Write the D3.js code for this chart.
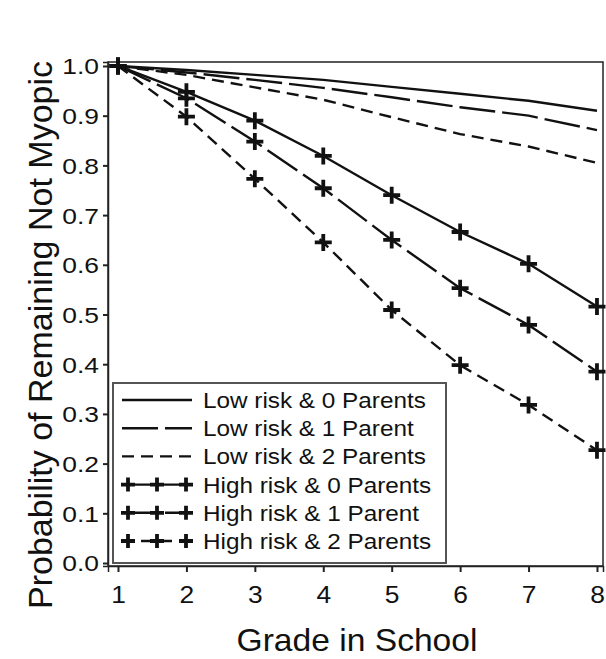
<!DOCTYPE html>
<html>
<head>
<meta charset="utf-8">
<script src="https://cdn.jsdelivr.net/npm/d3@7"></script>
<style>
  body { margin: 0; background: #fff; }
  svg text { font-family: "Liberation Sans", Arial, sans-serif; fill: #111; }
</style>
</head>
<body>
<div id="chart"></div>
<script>
// grades on the x axis
var grades = [1, 2, 3, 4, 5, 6, 7, 8];
var yTicks = [0, 0.1, 0.2, 0.3, 0.4, 0.5, 0.6, 0.7, 0.8, 0.9, 1.0];

// probability of remaining not myopic
var lowRisk0 = [1.0, 0.992, 0.982, 0.972, 0.958, 0.944, 0.93, 0.91];
var lowRisk1 = [1.0, 0.987, 0.972, 0.956, 0.937, 0.917, 0.90, 0.871];
var lowRisk2 = [1.0, 0.982, 0.957, 0.932, 0.897, 0.863, 0.838, 0.805];
var highRisk0 = [1.0, 0.948, 0.89, 0.819, 0.74, 0.666, 0.602, 0.516];
var highRisk1 = [1.0, 0.935, 0.848, 0.754, 0.65, 0.553, 0.479, 0.385];
var highRisk2 = [1.0, 0.898, 0.773, 0.645, 0.509, 0.398, 0.318, 0.227];

var seriesNames = ["Low risk & 0 Parents", "Low risk & 1 Parent", "Low risk & 2 Parents",
                   "High risk & 0 Parents", "High risk & 1 Parent", "High risk & 2 Parents"];

var width = 606, height = 659;
var plotLeft = 108, plotRight = 603, plotTop = 62, plotBottom = 566;

var series = [
  { name: seriesNames[0], values: lowRisk0, dash: null, plus: false },
  { name: seriesNames[1], values: lowRisk1, dash: "36,7", plus: false },
  { name: seriesNames[2], values: lowRisk2, dash: "12,7", plus: false },
  { name: seriesNames[3], values: highRisk0, dash: null, plus: true },
  { name: seriesNames[4], values: highRisk1, dash: "36,7", plus: true },
  { name: seriesNames[5], values: highRisk2, dash: "12,7", plus: true }
];

var x = d3.scaleLinear().domain([0.854, 8.088]).range([plotLeft, plotRight]);
var y = d3.scaleLinear().domain([-0.006, 1.008]).range([plotBottom, plotTop]);

var svg = d3.select("#chart").append("svg")
  .attr("width", width).attr("height", height);

// stretch text a bit wider, the figure's lettering is wide
function stretch(sel, k) {
  sel.each(function () {
    var w = this.getComputedTextLength();
    d3.select(this).attr("textLength", w * k).attr("lengthAdjust", "spacingAndGlyphs");
  });
}

// frame
svg.append("rect")
  .attr("x", plotLeft).attr("y", plotTop)
  .attr("width", plotRight - plotLeft).attr("height", plotBottom - plotTop)
  .attr("fill", "none").attr("stroke", "#222").attr("stroke-width", 1.5);

var xAxis = d3.axisBottom(x).tickValues(grades).tickSize(6).tickPadding(14).tickFormat(d3.format("d"));
var yAxis = d3.axisLeft(y).tickValues(yTicks).tickSize(5).tickPadding(4).tickFormat(d3.format(".1f"));

var gx = svg.append("g").attr("transform", "translate(0," + plotBottom + ")").call(xAxis);
var gy = svg.append("g").attr("transform", "translate(" + plotLeft + ",0)").call(yAxis);

[gx, gy].forEach(function (g) {
  g.select(".domain").attr("stroke", "#222").attr("stroke-width", 1.5);
  g.selectAll(".tick line").attr("stroke", "#222").attr("stroke-width", 2);
  g.selectAll(".tick text").attr("fill", "#111");
});
gx.selectAll(".tick text").style("font-size", "24px");
gy.selectAll(".tick text").style("font-size", "22px").attr("dy", "0.36em");
stretch(gx.selectAll(".tick text"), 1.1);
stretch(gy.selectAll(".tick text"), 1.2);

// lines
var line = d3.line()
  .x(function (d, i) { return x(grades[i]); })
  .y(function (d) { return y(d); });

var plusPath = function (s) { return "M" + (-s) + ",0H" + s + "M0," + (-s) + "V" + s; };

series.forEach(function (s) {
  svg.append("path")
    .attr("d", line(s.values))
    .attr("fill", "none")
    .attr("stroke", "#111")
    .attr("stroke-width", 2.4)
    .attr("stroke-dasharray", s.dash);
  if (s.plus) {
    svg.selectAll(null)
      .data(s.values)
      .enter()
      .append("path")
      .attr("d", plusPath(8.5))
      .attr("transform", function (d, i) { return "translate(" + x(grades[i]) + "," + y(d) + ")"; })
      .attr("stroke", "#111")
      .attr("stroke-width", 3.8)
      .attr("fill", "none");
  }
});

// legend
var legend = svg.append("g");
legend.append("rect")
  .attr("x", 113).attr("y", 383).attr("width", 333).attr("height", 180)
  .attr("fill", "#fff").attr("stroke", "#555").attr("stroke-width", 2);

var rows = legend.selectAll("g.row")
  .data(series)
  .enter()
  .append("g")
  .attr("class", "row")
  .attr("transform", function (d, i) { return "translate(0," + (400 + i * 28.2) + ")"; });

rows.append("line")
  .attr("x1", 122).attr("x2", 192).attr("y1", 0).attr("y2", 0)
  .attr("stroke", "#111").attr("stroke-width", 2.4)
  .attr("stroke-dasharray", function (d) { return d.dash; });

rows.filter(function (d) { return d.plus; })
  .selectAll("path")
  .data([128, 157, 186])
  .enter()
  .append("path")
  .attr("d", plusPath(7))
  .attr("transform", function (d) { return "translate(" + d + ",0)"; })
  .attr("stroke", "#111").attr("stroke-width", 3.8).attr("fill", "none");

var legText = rows.append("text")
  .attr("x", 203).attr("y", 8)
  .style("font-size", "22.5px")
  .text(function (d) { return d.name; });
stretch(legText, 1.08);

// axis titles
var xt = svg.append("text")
  .attr("x", 357).attr("y", 651)
  .attr("text-anchor", "middle")
  .style("font-size", "32px")
  .text("Grade in School");
stretch(xt, 1.05);

var yt = svg.append("text")
  .attr("transform", "translate(52,335) rotate(-90)")
  .attr("text-anchor", "middle")
  .style("font-size", "34px")
  .text("Probability of Remaining Not Myopic");
</script>
</body>
</html>
